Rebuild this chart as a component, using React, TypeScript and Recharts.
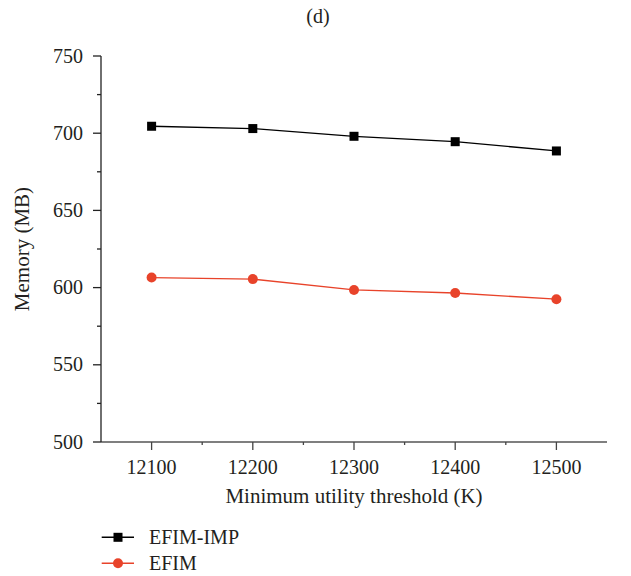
import { LineChart, Line, XAxis, YAxis, Legend, Label } from 'recharts';

const THRESHOLDS = [12100, 12200, 12300, 12400, 12500];
const EFIM_IMP = [704.5, 703, 698, 694.5, 688.5];
const EFIM = [606.5, 605.5, 598.5, 596.5, 592.5];

const X_MAJOR = [12100, 12200, 12300, 12400, 12500];
const X_MINOR = [12150, 12250, 12350, 12450];
const Y_MAJOR = [500, 550, 600, 650, 700, 750];
const Y_MINOR = [525, 575, 625, 675, 725];
const LEGEND_ORDER = ['imp', 'efim'];

const data = THRESHOLDS.map((t, i) => ({ t, imp: EFIM_IMP[i], efim: EFIM[i] }));

const SERIF = "'Liberation Serif', 'Times New Roman', Times, serif";
const INK = '#231f20';
const RED = '#e8432a';
const txt = { fontFamily: SERIF };

const XTick = (props: any) => {
  const { x, y, payload } = props;
  const major = X_MAJOR.includes(payload.value);
  return (
    <g>
      <line x1={x} x2={x} y1={y} y2={y + (major ? 8 : 3)} stroke="#444" strokeWidth={1.3} />
      {major && (
        <text x={x} y={y + 32} textAnchor="middle" style={txt} fontSize={20} fill={INK}>
          {payload.value}
        </text>
      )}
    </g>
  );
};

const YTick = (props: any) => {
  const { x, y, payload } = props;
  const major = Y_MAJOR.includes(payload.value);
  return (
    <g>
      <line x1={x} x2={x - (major ? 8 : 4)} y1={y} y2={y} stroke="#222" strokeWidth={1.3} />
      {major && (
        <text x={x - 18} y={y + 6.5} textAnchor="end" style={txt} fontSize={20} fill={INK}>
          {payload.value}
        </text>
      )}
    </g>
  );
};

const Square = (p: any) => (
  <rect key={`sq-${p.index}`} x={p.cx - 4.5} y={p.cy - 4.5} width={9} height={9} fill="#000" />
);

const Dot = (p: any) => <circle key={`ci-${p.index}`} cx={p.cx} cy={p.cy} r={5} fill={RED} />;

const renderLegend = (props: any) => {
  const items = [...(props.payload || [])].sort(
    (a: any, b: any) => LEGEND_ORDER.indexOf(a.dataKey) - LEGEND_ORDER.indexOf(b.dataKey)
  );
  return (
    <svg width={220} height={56}>
      {items.map((entry: any, i: number) => {
        const cy = 15.3 + i * 26;
        const isImp = entry.dataKey === 'imp';
        return (
          <g key={entry.value}>
            <line x1={6.7} x2={39} y1={cy} y2={cy} stroke={entry.color} strokeWidth={1.5} />
            {isImp ? (
              <rect x={18.5} y={cy - 4.5} width={9} height={9} fill="#000" />
            ) : (
              <circle cx={23} cy={cy} r={5} fill={RED} />
            )}
            <text x={54} y={cy + 6.5} style={txt} fontSize={20} fill={INK}>
              {entry.value}
            </text>
          </g>
        );
      })}
    </svg>
  );
};

export default function App() {
  return (
    <div style={{ position: 'absolute', left: 0, top: 0, width: 631, height: 576, background: '#fff' }}>
      <div
        style={{
          position: 'absolute',
          left: 0,
          top: 6,
          width: 636,
          textAlign: 'center',
          fontFamily: SERIF,
          fontSize: 20,
          lineHeight: '20px',
          color: INK,
        }}
      >
        (d)
      </div>
      <LineChart width={631} height={576} data={data} margin={{ top: 56, right: 24, bottom: 0, left: 0 }}>
        <XAxis
          dataKey="t"
          type="number"
          domain={[12050, 12550]}
          ticks={[...X_MAJOR, ...X_MINOR].sort((a, b) => a - b)}
          interval={0}
          tickSize={0}
          tickMargin={0}
          tick={<XTick />}
          height={134}
          stroke="#555"
          strokeWidth={1.3}
        >
          <Label
            content={({ viewBox }: any) => (
              <text
                x={viewBox.x + viewBox.width / 2}
                y={viewBox.y + 61}
                textAnchor="middle"
                style={txt}
                fontSize={21}
                fill={INK}
              >
                Minimum utility threshold (K)
              </text>
            )}
          />
        </XAxis>
        <YAxis
          type="number"
          domain={[500, 750]}
          ticks={[...Y_MAJOR, ...Y_MINOR].sort((a, b) => a - b)}
          interval={0}
          tickSize={0}
          tickMargin={0}
          tick={<YTick />}
          width={101}
          stroke="#222"
          strokeWidth={1.3}
        >
          <Label
            content={({ viewBox }: any) => {
              const cy = viewBox.y + viewBox.height / 2;
              return (
                <text
                  x={29}
                  y={cy}
                  transform={`rotate(-90 29 ${cy})`}
                  textAnchor="middle"
                  style={txt}
                  fontSize={21}
                  fill={INK}
                >
                  Memory (MB)
                </text>
              );
            }}
          />
        </YAxis>
        <Legend
          layout="horizontal"
          verticalAlign="middle"
          align="center"
          wrapperStyle={{ left: 95, top: 522, width: 220, height: 56 }}
          content={renderLegend}
        />
        <Line
          dataKey="imp"
          name="EFIM-IMP"
          stroke="#000"
          strokeWidth={1.3}
          dot={Square}
          activeDot={false}
          isAnimationActive={false}
        />
        <Line
          dataKey="efim"
          name="EFIM"
          stroke={RED}
          strokeWidth={1.3}
          dot={Dot}
          activeDot={false}
          isAnimationActive={false}
        />
      </LineChart>
    </div>
  );
}
